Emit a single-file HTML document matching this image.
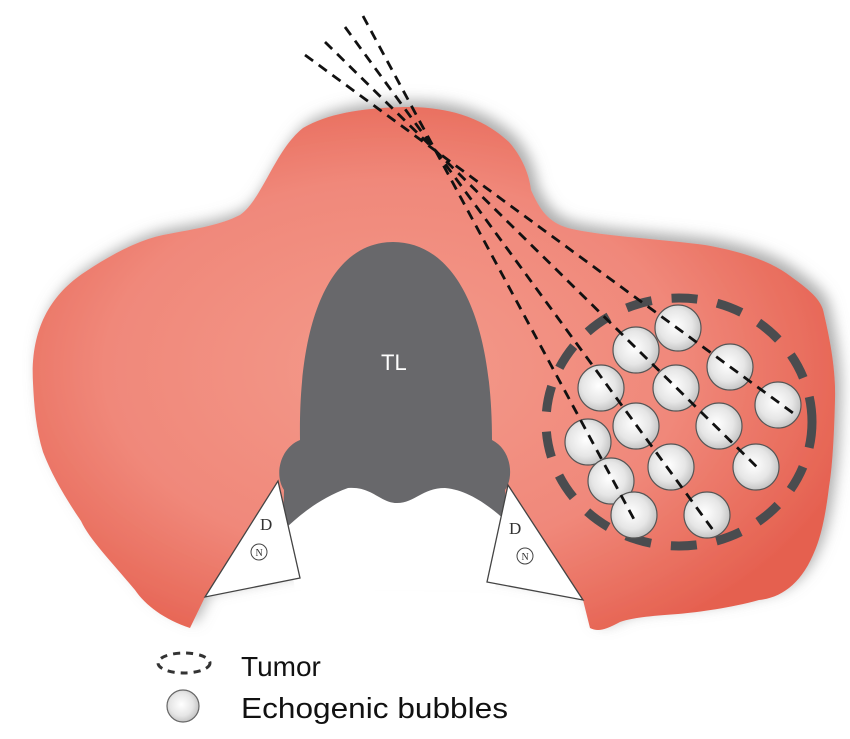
<!DOCTYPE html>
<html><head><meta charset="utf-8"><style>html,body{margin:0;padding:0;background:#fff}svg{display:block}</style></head>
<body>
<svg width="850" height="739" viewBox="0 0 850 739" xmlns="http://www.w3.org/2000/svg">
<defs>
<radialGradient id="bg" cx="0.45" cy="0.5" r="0.6">
<stop offset="0" stop-color="#f49a8b"/><stop offset="0.6" stop-color="#f0887a"/><stop offset="1" stop-color="#e5604f"/>
</radialGradient>
<radialGradient id="bb" cx="0.45" cy="0.45" r="0.6">
<stop offset="0" stop-color="#ffffff"/><stop offset="0.6" stop-color="#e6e6e6"/><stop offset="1" stop-color="#bdbdbd"/>
</radialGradient>
<filter id="sh" x="-10%" y="-10%" width="120%" height="120%"><feDropShadow dx="6" dy="-6" stdDeviation="7" flood-color="#777" flood-opacity="0.6"/></filter>
</defs>
<path filter="url(#sh)" fill="url(#bg)" d="M33,383 C30,330 50,295 85,272 C115,252 140,240 163,235 C200,228 220,225 240,215 C262,200 275,150 303,128 C330,112 370,107 412,107 C445,108 480,115 509,142 C525,160 530,180 531,190 C540,210 548,222 568,228 C600,236 650,238 705,245 C745,252 770,262 786,273 C810,290 822,300 824,314 C830,340 836,370 835,400 C834,440 832,470 829,487 C825,520 820,540 813,555 C800,585 780,598 759,600 C730,608 700,612 678,614 C650,616 630,618 620,622 C605,630 598,632 590,628 L583,600 L487,582 L300,578 L205,597 L190,628 C165,620 145,605 135,590 C110,560 90,540 81,521 C60,490 50,470 43,452 C36,430 34,405 33,383 Z"/>
<path fill="#68686b" d="M300,440 C298,310 335,242 393,242 C452,242 492,310 492,440 C512,450 514,478 505,490 L507,530 L283,530 L284,490 C274,475 280,448 300,440 Z"/>
<text x="381" y="370" font-family="Liberation Sans, sans-serif" font-size="22" fill="#fff">TL</text>
<path fill="#fff" d="M286,528 C300,515 320,498 348,488 C372,486 380,503 397,503 C415,503 422,488 445,488 C468,490 488,505 505,520 L495,590 L295,590 Z"/>
<polygon points="278,481 300,578 205,597" fill="#fff" stroke="#444" stroke-width="1.3"/>
<polygon points="508,485 583,600 487,582" fill="#fff" stroke="#444" stroke-width="1.3"/>
<text x="260" y="530" font-family="Liberation Serif, serif" font-size="17" fill="#333">D</text>
<circle cx="259" cy="552" r="8" fill="none" stroke="#444" stroke-width="1"/>
<text x="255.5" y="556" font-family="Liberation Serif, serif" font-size="10" fill="#333">N</text>
<text x="509" y="534" font-family="Liberation Serif, serif" font-size="17" fill="#333">D</text>
<circle cx="525" cy="556" r="8" fill="none" stroke="#444" stroke-width="1"/>
<text x="521.5" y="560" font-family="Liberation Serif, serif" font-size="10" fill="#333">N</text>
<ellipse cx="679" cy="422" rx="133" ry="124" fill="none" stroke="#4a4c4f" stroke-width="9" stroke-dasharray="26 20"/>
<g fill="url(#bb)" stroke="#555" stroke-width="1.2">
<circle cx="678" cy="328" r="23"/><circle cx="636" cy="350" r="23"/><circle cx="730" cy="367" r="23"/>
<circle cx="601" cy="388" r="23"/><circle cx="676" cy="388" r="23"/><circle cx="778" cy="405" r="23"/>
<circle cx="636" cy="426" r="23"/><circle cx="719" cy="426" r="23"/><circle cx="588" cy="442" r="23"/>
<circle cx="756" cy="467" r="23"/><circle cx="671" cy="467" r="23"/><circle cx="611" cy="481" r="23"/>
<circle cx="634" cy="515" r="23"/><circle cx="707" cy="515" r="23"/>
</g>
<g stroke="#111" stroke-width="2.8" stroke-dasharray="10 7" fill="none">
<line x1="305" y1="55" x2="793" y2="413"/>
<line x1="325" y1="42" x2="760" y2="470"/>
<line x1="345" y1="27" x2="713" y2="530"/>
<line x1="363" y1="16" x2="636" y2="523"/>
</g>
<ellipse cx="184" cy="663" rx="26" ry="10" fill="none" stroke="#333" stroke-width="3" stroke-dasharray="7 6"/>
<circle cx="183" cy="706" r="16" fill="url(#bb)" stroke="#666" stroke-width="1.2"/>
<text x="241" y="676" font-family="Liberation Sans, sans-serif" font-size="28" fill="#111">Tumor</text>
<text x="241" y="718" font-family="Liberation Sans, sans-serif" font-size="29" fill="#111" textLength="267" lengthAdjust="spacingAndGlyphs">Echogenic bubbles</text>
</svg>
</body></html>
